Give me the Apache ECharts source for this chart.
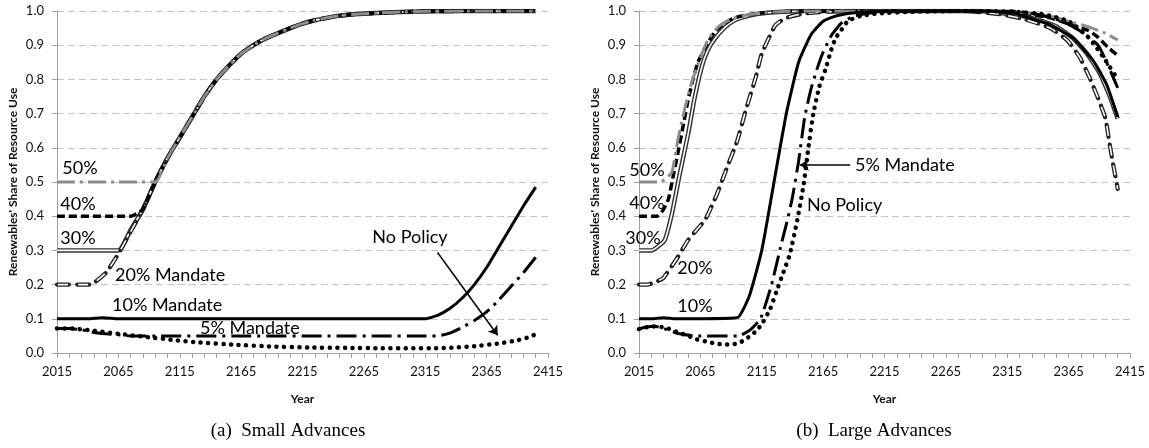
<!DOCTYPE html>
<html>
<head>
<meta charset="utf-8">
<script src="https://cdn.jsdelivr.net/npm/echarts@6/dist/echarts.min.js"></script>
<style>
  html, body { margin: 0; padding: 0; background: #fff; }
  #chart { width: 1149px; height: 448px; }
</style>
</head>
<body>
<div id="chart"></div>
<script>
// tick labels
const yearTicks = [2015, 2415, 50];
const shareTicks = [0, 1, 0.1];

// (a) small advances  -- [year, share]
const smallP50 = [[2015,0.5],[2095,0.5],[2105,0.57],[2115,0.63],[2125,0.69],[2135,0.75],[2145,0.80],[2155,0.84],[2165,0.875],[2175,0.90],[2185,0.92],[2195,0.935],[2205,0.95],[2215,0.963],[2225,0.973],[2235,0.98],[2245,0.986],[2255,0.99],[2275,0.994],[2295,0.997],[2315,0.999],[2345,1.0],[2405,1.0]];
const smallP40 = [[2015,0.4],[2075,0.4],[2085,0.42],[2095,0.5],[2105,0.57],[2115,0.63],[2125,0.69],[2135,0.75],[2145,0.80],[2155,0.84],[2165,0.875],[2175,0.90],[2185,0.92],[2195,0.935],[2205,0.95],[2215,0.963],[2225,0.973],[2235,0.98],[2245,0.986],[2255,0.99],[2275,0.994],[2295,0.997],[2315,0.999],[2345,1.0],[2405,1.0]];
const smallP30 = [[2015,0.3],[2065,0.3],[2075,0.36],[2085,0.42],[2095,0.5],[2105,0.57],[2115,0.63],[2125,0.69],[2135,0.75],[2145,0.80],[2155,0.84],[2165,0.875],[2175,0.90],[2185,0.92],[2195,0.935],[2205,0.95],[2215,0.963],[2225,0.973],[2235,0.98],[2245,0.986],[2255,0.99],[2275,0.994],[2295,0.997],[2315,0.999],[2345,1.0],[2405,1.0]];
const smallP20 = [[2015,0.2],[2042,0.2],[2055,0.235],[2065,0.29],[2075,0.355],[2085,0.42],[2095,0.5],[2105,0.57],[2115,0.63],[2125,0.69],[2135,0.75],[2145,0.80],[2155,0.84],[2165,0.875],[2175,0.90],[2185,0.92],[2195,0.935],[2205,0.95],[2215,0.963],[2225,0.973],[2235,0.98],[2245,0.986],[2255,0.99],[2275,0.994],[2295,0.997],[2315,0.999],[2345,1.0],[2405,1.0]];
const smallP10 = [[2015,0.1],[2040,0.1],[2052,0.103],[2065,0.1],[2315,0.1],[2325,0.11],[2335,0.13],[2345,0.16],[2355,0.2],[2365,0.25],[2375,0.31],[2385,0.37],[2395,0.43],[2405,0.485]];
const smallP05 = [[2015,0.072],[2025,0.072],[2035,0.068],[2045,0.06],[2055,0.056],[2065,0.053],[2075,0.05],[2325,0.05],[2335,0.058],[2345,0.075],[2355,0.095],[2365,0.12],[2375,0.155],[2385,0.195],[2395,0.235],[2405,0.28]];
const smallNone = [[2015,0.072],[2030,0.071],[2050,0.063],[2065,0.056],[2090,0.046],[2110,0.038],[2130,0.031],[2160,0.024],[2190,0.019],[2220,0.016],[2250,0.015],[2280,0.014],[2320,0.014],[2340,0.016],[2355,0.02],[2375,0.028],[2390,0.037],[2400,0.047],[2405,0.055]];

// (b) large advances
const largeP50 = [[2015,0.5],[2032,0.5],[2037,0.51],[2042,0.53],[2047,0.63],[2052,0.71],[2057,0.78],[2063,0.845],[2071,0.915],[2080,0.955],[2091,0.978],[2105,0.99],[2125,0.997],[2150,1.0],[2300,1.0],[2330,0.995],[2350,0.985],[2365,0.97],[2380,0.955],[2395,0.935],[2405,0.915]];
const largeP40 = [[2015,0.4],[2030,0.4],[2035,0.42],[2039,0.45],[2043,0.52],[2047,0.59],[2051,0.665],[2055,0.74],[2059,0.80],[2063,0.85],[2070,0.9],[2077,0.94],[2085,0.965],[2093,0.98],[2105,0.99],[2120,0.996],[2150,1.0],[2300,1.0],[2330,0.993],[2350,0.98],[2369,0.958],[2381,0.943],[2389,0.923],[2397,0.894],[2405,0.87]];
const largeP30 = [[2015,0.3],[2025,0.3],[2030,0.31],[2036,0.33],[2042,0.41],[2048,0.52],[2055,0.64],[2060,0.74],[2066,0.835],[2071,0.885],[2077,0.92],[2085,0.952],[2093,0.973],[2105,0.987],[2120,0.995],[2150,1.0],[2290,1.0],[2320,0.99],[2340,0.975],[2355,0.955],[2368,0.922],[2380,0.875],[2390,0.82],[2398,0.755],[2405,0.685]];
const largeP20 = [[2015,0.2],[2022,0.2],[2030,0.21],[2035,0.22],[2046,0.277],[2055,0.33],[2062,0.36],[2069,0.39],[2078,0.46],[2087,0.545],[2095,0.62],[2102,0.71],[2110,0.805],[2115,0.875],[2126,0.958],[2135,0.98],[2150,0.993],[2170,0.998],[2200,1.0],[2280,1.0],[2310,0.99],[2330,0.975],[2350,0.95],[2364,0.914],[2374,0.865],[2382,0.806],[2389,0.745],[2395,0.686],[2398,0.62],[2401,0.557],[2405,0.48]];
const largeP10 = [[2015,0.1],[2025,0.1],[2035,0.103],[2045,0.1],[2095,0.103],[2105,0.168],[2115,0.3],[2125,0.5],[2135,0.70],[2145,0.85],[2155,0.93],[2165,0.97],[2175,0.985],[2185,0.993],[2200,0.998],[2220,1.0],[2300,1.0],[2320,0.993],[2333,0.98],[2350,0.96],[2369,0.92],[2385,0.855],[2396,0.785],[2405,0.69]];
const largeP05 = [[2015,0.07],[2020,0.075],[2028,0.078],[2035,0.072],[2047,0.057],[2061,0.05],[2096,0.05],[2105,0.066],[2114,0.10],[2123,0.2],[2131,0.32],[2136,0.39],[2140,0.455],[2145,0.56],[2150,0.69],[2155,0.77],[2160,0.83],[2165,0.88],[2172,0.93],[2180,0.965],[2190,0.985],[2205,0.995],[2230,1.0],[2320,1.0],[2340,0.99],[2360,0.97],[2375,0.94],[2389,0.9],[2396,0.85],[2405,0.775]];
const largeNone = [[2015,0.07],[2025,0.078],[2036,0.075],[2045,0.063],[2055,0.05],[2062,0.04],[2069,0.034],[2077,0.028],[2085,0.025],[2091,0.025],[2097,0.03],[2104,0.046],[2111,0.066],[2116,0.09],[2122,0.13],[2127,0.18],[2132,0.23],[2138,0.29],[2144,0.39],[2149,0.49],[2153,0.6],[2157,0.70],[2162,0.78],[2167,0.83],[2171,0.88],[2175,0.92],[2179,0.94],[2185,0.97],[2195,0.985],[2210,0.993],[2240,0.998],[2280,1.0],[2320,0.998],[2345,0.99],[2365,0.97],[2382,0.92],[2395,0.856],[2405,0.80]];

let myChart = echarts.init(document.getElementById('chart'), null, { renderer: 'canvas' });

const FONT = 'Lato, "Open Sans", sans-serif';
const gridColor = '#c3c3c3';
const axisColor = '#a0a0a0';

function xAx(idx) {
    return {
        type: 'value', gridIndex: idx,
        min: yearTicks[0], max: yearTicks[1], interval: yearTicks[2],
        name: 'Year', nameLocation: 'middle', nameGap: 40,
        nameTextStyle: { fontFamily: FONT, fontWeight: 'bold', fontSize: 12, color: '#111' },
        axisLine: { lineStyle: { color: axisColor, width: 1 } },
        axisTick: { length: 5, lineStyle: { color: axisColor } },
        minorTick: { show: true, splitNumber: 5, length: 5, lineStyle: { color: axisColor } },
        axisLabel: { fontFamily: FONT, fontSize: 13, color: '#111', margin: 12,
            formatter: v => String(v) },
        splitLine: { show: false }
    };
}
function yAx(idx) {
    return {
        type: 'value', gridIndex: idx,
        min: shareTicks[0], max: shareTicks[1], interval: shareTicks[2],
        name: "Renewables' Share of Resource Use", nameLocation: 'middle', nameGap: 38,
        nameTextStyle: { fontFamily: FONT, fontWeight: 'bold', fontSize: 12, color: '#111' },
        axisLine: { show: true, lineStyle: { color: axisColor, width: 1 } },
        axisTick: { show: true, length: 5, lineStyle: { color: axisColor } },
        axisLabel: { fontFamily: FONT, fontSize: 13, color: '#111', margin: 13,
            formatter: v => v.toFixed(1) },
        splitLine: { show: true, lineStyle: { color: gridColor, type: [7, 4], width: 1 } }
    };
}

// one line series
function line(idx, data, style, extra) {
    return Object.assign({
        type: 'line', xAxisIndex: idx, yAxisIndex: idx,
        data: data, showSymbol: false, symbol: 'none',
        smooth: 0.15,
        animation: false, silent: true,
        lineStyle: style
    }, extra || {});
}

// each policy drawn in one panel
function panel(idx, p50, p40, p30, p20, p10, p05, none) {
    return [
        // 30% double line
        line(idx, p30, { color: '#333', width: 4.5 }),
        line(idx, p30, { color: '#fff', width: 1.6 }),
        // 20% hollow dashes
        line(idx, p20, { color: '#222', width: 4.2, type: [12, 8], cap: 'round' }),
        line(idx, p20, { color: '#fff', width: 1.6, type: [10, 10], dashOffset: -1 }),
        line(idx, p40, { color: '#000', width: 3.5, type: [8, 4] }),
        line(idx, p50, { color: '#8c8c8c', width: 3, type: [18, 5, 3, 5] }),
        line(idx, p10, { color: '#000', width: 3 }),
        line(idx, p05, { color: '#000', width: 3, type: [20, 6, 3, 6] }),
        line(idx, none, { color: '#000', width: 4.5, type: [0.1, 7.5], cap: 'round' })
    ];
}

let series = panel(0, smallP50, smallP40, smallP30, smallP20, smallP10, smallP05, smallNone)
    .concat(panel(1, largeP50, largeP40, largeP30, largeP20, largeP10, largeP05, largeNone));

// arrows
series.push(line(0, [], {}, {
    markLine: {
        silent: true, symbol: ['none', 'arrow'], symbolSize: 9,
        label: { show: false },
        lineStyle: { color: '#000', width: 1.5, type: 'solid' },
        data: [[{ coord: [2325, 0.294] }, { coord: [2374, 0.052] }]]
    }
}));
series.push(line(1, [], {}, {
    markLine: {
        silent: true, symbol: ['none', 'arrow'], symbolSize: 9,
        label: { show: false },
        lineStyle: { color: '#000', width: 1.5, type: 'solid' },
        data: [[{ coord: [2187, 0.55] }, { coord: [2146, 0.55] }]]
    }
}));

function txt(x, y, s, align) {
    return {
        type: 'text', x: x, y: y, z: 100, silent: true,
        style: { text: s, font: '18px ' + FONT, fill: '#000',
            textAlign: align || 'center', textVerticalAlign: 'middle' }
    };
}
function caption(x, s) {
    return {
        type: 'text', x: x, y: 431, silent: true,
        style: { text: s, font: '19px "Liberation Serif", "DejaVu Serif", serif', fill: '#000',
            textAlign: 'center', textVerticalAlign: 'middle' }
    };
}

let option = {
    backgroundColor: '#fff',
    grid: [
        { left: 57, top: 11, width: 491, height: 342 },
        { left: 639, top: 11, width: 491, height: 342 }
    ],
    xAxis: [xAx(0), xAx(1)],
    yAxis: [yAx(0), yAx(1)],
    series: series,
    graphic: [
        txt(80, 168, '50%'), txt(78, 204, '40%'), txt(78, 238, '30%'),
        txt(115, 275, '20% Mandate', 'left'), txt(112, 305, '10% Mandate', 'left'),
        txt(200, 328, '5% Mandate', 'left'), txt(410, 237, 'No Policy'),
        txt(647, 170, '50%'), txt(647, 203, '40%'), txt(643, 238, '30%'),
        txt(695, 268, '20%'), txt(695, 306, '10%'),
        txt(855, 165, '5% Mandate', 'left'), txt(807, 205, 'No Policy', 'left'),
        caption(288, '(a)  Small Advances'), caption(874, '(b)  Large Advances')
    ]
};

myChart.setOption(option);
</script>
</body>
</html>
